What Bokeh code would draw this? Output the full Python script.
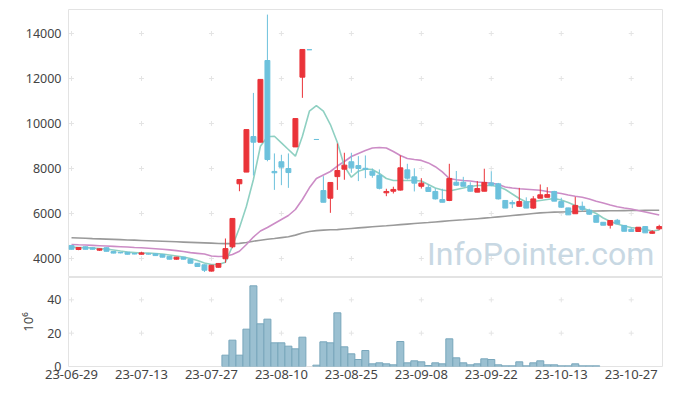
from bokeh.plotting import figure
from bokeh.layouts import column
from bokeh.models import ColumnDataSource, FixedTicker, Label, Range1d, CDSView, BooleanFilter
from bokeh.embed import file_html
from bokeh.resources import INLINE

dates = ["23-06-29", "23-06-30", "23-07-03", "23-07-04", "23-07-05", "23-07-06", "23-07-07", "23-07-10", "23-07-11", "23-07-12",
         "23-07-13", "23-07-14", "23-07-17", "23-07-18", "23-07-19", "23-07-20", "23-07-21", "23-07-24", "23-07-25", "23-07-26",
         "23-07-27", "23-07-28", "23-07-31", "23-08-01", "23-08-02", "23-08-03", "23-08-04", "23-08-07", "23-08-08", "23-08-09",
         "23-08-10", "23-08-11", "23-08-14", "23-08-16", "23-08-17", "23-08-18", "23-08-21", "23-08-22", "23-08-23", "23-08-24",
         "23-08-25", "23-08-28", "23-08-29", "23-08-30", "23-08-31", "23-09-01", "23-09-04", "23-09-05", "23-09-06", "23-09-07",
         "23-09-08", "23-09-11", "23-09-12", "23-09-13", "23-09-14", "23-09-15", "23-09-18", "23-09-19", "23-09-20", "23-09-21",
         "23-09-22", "23-09-25", "23-09-26", "23-09-27", "23-10-04", "23-10-05", "23-10-06", "23-10-10", "23-10-11", "23-10-12",
         "23-10-13", "23-10-16", "23-10-17", "23-10-18", "23-10-19", "23-10-20", "23-10-23", "23-10-24", "23-10-25", "23-10-26",
         "23-10-27", "23-10-30", "23-10-31", "23-11-01", "23-11-02"]

opens = [4580, 4400, 4520, 4480, 4370, 4480, 4310, 4270, 4280, 4220,
         4190, 4210, 4210, 4180, 4100, 3970, 4060, 3970, 3790, 3720,
         3440, 3610, 3990, 4520, 7320, 7840, 9420, 9170, 12800, 7870,
         8300, 8000, 8960, 12060, 13280, 9290, 7020, 6680, 7640, 7970,
         8300, 8130, 8010, 7880, 7700, 6920, 6990, 7040, 7940, 7630,
         7210, 7160, 6980, 6620, 6580, 7390, 7390, 7240, 6950, 6990,
         7360, 7320, 6580, 6490, 6320, 6520, 6240, 6680, 6720, 6980,
         6530, 6250, 5990, 6320, 6150, 5910, 5610, 5480, 5700, 5470,
         5300, 5200, 5420, 5120, 5320]
highs = [4600, 4500, 4530, 4500, 4440, 4490, 4320, 4290, 4290, 4240,
         4300, 4230, 4220, 4190, 4110, 4070, 4070, 3980, 3800, 3740,
         3710, 3800, 4890, 5780, 7520, 9730, 11360, 11960, 14840, 8670,
         8610, 8670, 10220, 13290, 13280, 9290, 7660, 7380, 9110, 8700,
         8700, 8550, 8580, 8000, 7960, 7100, 7190, 8580, 8210, 8010,
         7570, 7300, 7120, 7100, 8210, 7890, 7630, 7390, 7440, 7990,
         7880, 7360, 6600, 6590, 7140, 6720, 6770, 7290, 7170, 7010,
         6700, 6260, 6740, 6530, 6210, 5920, 5620, 5690, 5760, 5480,
         5390, 5390, 5430, 5260, 5500]
lows = [4400, 4370, 4410, 4400, 4340, 4320, 4230, 4230, 4180, 4190,
        4180, 4180, 4130, 4050, 3960, 3950, 3960, 3790, 3640, 3400,
        3420, 3600, 3810, 4460, 6990, 7840, 7690, 9170, 8320, 7050,
        7260, 7140, 8960, 11140, 13280, 9290, 6500, 6030, 7050, 7500,
        7810, 7440, 7570, 7590, 7070, 6770, 6890, 7020, 7510, 6980,
        7110, 6980, 6620, 6500, 6550, 7230, 7210, 6980, 6950, 6990,
        7210, 6620, 6240, 6240, 6300, 6240, 6210, 6680, 6720, 6550,
        6250, 5940, 5990, 6100, 5940, 5610, 5480, 5330, 5540, 5210,
        5190, 5200, 5140, 5100, 5260]
closes = [4410, 4490, 4410, 4410, 4430, 4320, 4240, 4250, 4190, 4200,
          4250, 4195, 4130, 4060, 3970, 4060, 3970, 3790, 3645, 3480,
          3700, 3780, 4440, 5780, 7510, 9730, 9170, 11960, 8400, 7810,
          8060, 7820, 10220, 13290, 13280, 9290, 6500, 7380, 7910, 8150,
          8030, 8000, 7960, 7700, 7120, 6980, 7070, 8030, 7570, 7350,
          7350, 6980, 6650, 6500, 7560, 7260, 7210, 6990, 7110, 7380,
          7260, 6650, 6240, 6430, 6530, 6240, 6650, 6830, 6840, 6550,
          6280, 5940, 6360, 6180, 5970, 5610, 5480, 5690, 5540, 5210,
          5200, 5390, 5140, 5190, 5420]

ma_short = [4511, 4489, 4489, 4467, 4444, 4422, 4378, 4333, 4289, 4267,
            4244, 4244, 4222, 4200, 4156, 4111, 4067, 4000, 3911, 3800,
            3733, 3733, 3836, 4547, 5364, 6324, 7511, 8991, 9409, 9435,
            9142, 8844, 8547, 9435, 10546, 10800, 10546, 9955, 9155, 8102,
            7613, 7880, 7978, 7956, 7778, 7555, 7466, 7466, 7466, 7466,
            7444, 7289, 7133, 7044, 7000, 7066, 7133, 7200, 7244, 7244,
            7244, 7200, 7066, 6866, 6666, 6511, 6533, 6578, 6622, 6666,
            6600, 6489, 6355, 6244, 6133, 6000, 5800, 5644, 5533, 5444,
            5378, 5333, 5289, 5222, 5266]
ma_mid = [4622, 4610, 4600, 4585, 4570, 4555, 4540, 4525, 4510, 4490,
          4475, 4455, 4435, 4410, 4385, 4350, 4310, 4260, 4230, 4200,
          4111, 4089, 4102, 4178, 4324, 4622, 4955, 5222, 5378, 5555,
          5733, 5911, 6178, 6622, 7142, 7555, 7711, 7867, 8111, 8311,
          8533, 8667, 8800, 8911, 8933, 8911, 8755, 8578, 8444, 8400,
          8360, 8250, 8080, 7850, 7555, 7498, 7466, 7444, 7400, 7378,
          7355, 7289, 7178, 7133, 7098, 7080, 7058, 7035, 6978, 6933,
          6889, 6822, 6764, 6724, 6644, 6542, 6466, 6378, 6298, 6244,
          6200, 6133, 6067, 6000, 5933]
ma_long = [4920, 4910, 4898, 4885, 4874, 4862, 4850, 4838, 4826, 4815,
           4803, 4790, 4778, 4766, 4754, 4742, 4730, 4718, 4706, 4694,
           4682, 4670, 4662, 4660, 4672, 4715, 4770, 4815, 4855, 4890,
           4930, 4970, 5040, 5130, 5200, 5240, 5260, 5275, 5285, 5310,
           5335, 5360, 5385, 5410, 5435, 5455, 5480, 5505, 5530, 5555,
           5580, 5600, 5625, 5650, 5675, 5700, 5720, 5745, 5770, 5795,
           5820, 5850, 5880, 5910, 5940, 5970, 6000, 6030, 6045, 6060,
           6070, 6080, 6090, 6100, 6105, 6110, 6115, 6120, 6125, 6128,
           6131, 6135, 6139, 6143, 6147]

volume_m = [0] * 22 + [6.8, 15.8, 6.8, 22.4, 48.4, 25.6, 28.4, 14.2, 14.2, 12.2,
                       10.6, 17.6, 0, 0.8, 14.8, 14.2, 32.2, 11.8, 7.6, 4.2,
                       9.6, 1.6, 2.2, 1.6, 1.0, 15.0, 2.2, 3.4, 2.8, 0.6,
                       2.2, 1.6, 16.6, 5.2, 2.2, 1.0, 1.6, 4.6, 4.2, 1.0,
                       0.4, 0.4, 2.8, 0.4, 2.2, 3.4, 1.0, 1.0, 0.4, 0.4,
                       1.6, 0.4, 0.4, 0.4] + [0] * 9

price_ticks = [4000, 6000, 8000, 10000, 12000, 14000]
volume_ticks = [0, 20, 40]
date_tick_step = 10

RED = "#ea3339"
BLUE = "#6cc1dc"
FONT = "Noto Sans"
TICK_COLOR = "#444444"
GRID_MARK = "#e4e4e4"

idx = list(range(len(dates)))
colors = [RED if c > o else BLUE for o, c in zip(opens, closes)]
src = ColumnDataSource(dict(
    x=idx, o=opens, h=highs, l=lows, c=closes,
    top=[max(o, c) for o, c in zip(opens, closes)],
    bot=[min(o, c) for o, c in zip(opens, closes)],
    color=colors, ma5=ma_short, ma20=ma_mid, ma120=ma_long,
))
vsrc = ColumnDataSource(dict(x=idx, v=volume_m))

date_ticks = idx[::date_tick_step]
x_range = Range1d(-0.43, 84.47)

def style(fig):
    fig.outline_line_color = "#e3e3e3"
    fig.xgrid.grid_line_color = None
    fig.ygrid.grid_line_color = None
    fig.background_fill_color = "white"
    fig.border_fill_color = "white"
    for ax in fig.yaxis:
        ax.axis_line_color = None
        ax.major_tick_line_color = None
        ax.minor_tick_line_color = None
        ax.major_tick_out = 0
        ax.major_tick_in = 0
        ax.minor_tick_out = 0
        ax.major_label_text_font = FONT
        ax.major_label_text_font_size = "12.5px"
        ax.major_label_text_color = TICK_COLOR
        ax.major_label_standoff = 7

# ---- price pane ----
p = figure(width=667, height=277, x_range=x_range, y_range=Range1d(3156, 15067),
           output_backend="svg", toolbar_location=None, x_axis_location=None,
           min_border_left=68, min_border_right=5, min_border_top=9, min_border_bottom=0)
style(p)
p.yaxis.ticker = FixedTicker(ticks=price_ticks)

gx = [t for t in date_ticks for _ in price_ticks]
gy = [v for _ in date_ticks for v in price_ticks]
p.scatter(gx, gy, marker="cross", size=5, line_color=GRID_MARK, line_width=1)

wm = Label(x=83.3, y=3340, text="InfoPointer.com", text_align="right", text_baseline="bottom",
           text_font="Roboto", text_font_size="32px", text_color="#c8d8e3")
p.add_layout(wm)

p.line("x", "ma120", source=src, line_color="#9a9a9a", line_width=1.6)
p.line("x", "ma20", source=src, line_color="#cc8cc6", line_width=1.6)
p.line("x", "ma5", source=src, line_color="#8fd0c2", line_width=1.6)

p.segment("x", "h", "x", "l", source=src, line_color="color", line_width=1)
p.vbar(x="x", width=0.7, top="top", bottom="bot", source=src,
       fill_color="color", line_color="color", line_width=1)

# ---- volume pane ----
q = figure(width=667, height=115, x_range=x_range, y_range=Range1d(0, 53.4),
           output_backend="svg", toolbar_location=None,
           min_border_left=68, min_border_right=5, min_border_top=0, min_border_bottom=26)
style(q)
q.yaxis.ticker = FixedTicker(ticks=volume_ticks)
q.yaxis.axis_label = "10⁶"
q.yaxis.axis_label_text_font = FONT
q.yaxis.axis_label_text_font_size = "13px"
q.yaxis.axis_label_text_font_style = "normal"
q.yaxis.axis_label_text_color = TICK_COLOR
q.yaxis.axis_label_standoff = 7

q.xaxis.ticker = FixedTicker(ticks=date_ticks)
q.xaxis.major_label_overrides = {i: dates[i] for i in date_ticks}
q.xaxis.axis_line_color = None
q.xaxis.major_tick_line_color = None
q.xaxis.minor_tick_line_color = None
q.xaxis.major_tick_out = 0
q.xaxis.major_tick_in = 0
q.xaxis.minor_tick_out = 0
q.xaxis.major_label_text_font = FONT
q.xaxis.major_label_text_font_size = "13px"
q.xaxis.major_label_text_color = TICK_COLOR
q.xaxis.major_label_standoff = 3

vgx = [t for t in date_ticks for _ in volume_ticks[1:]]
vgy = [v for _ in date_ticks for v in volume_ticks[1:]]
q.scatter(vgx, vgy, marker="cross", size=5, line_color=GRID_MARK, line_width=1)

view = CDSView(filter=BooleanFilter([v > 0 for v in volume_m]))
q.vbar(x="x", width=1.0, top="v", bottom=0, source=vsrc, view=view,
       fill_color="#9bc0d1", line_color="#78a6bb", line_width=1)

layout = column(p, q, spacing=0)
open("out.html", "w").write(file_html(layout, INLINE))
